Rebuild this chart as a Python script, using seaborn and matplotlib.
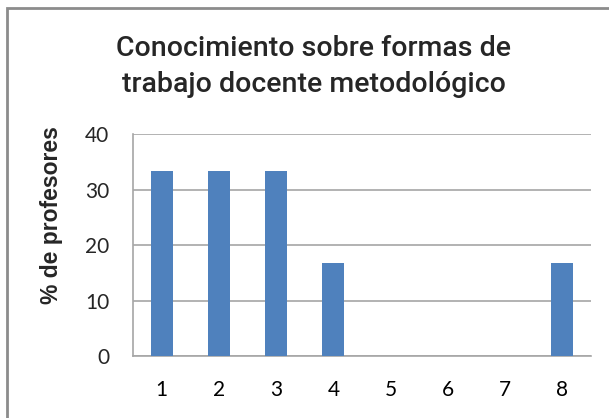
import matplotlib
matplotlib.use("Agg")
import matplotlib.pyplot as plt
import seaborn as sns
import pandas as pd
from matplotlib.patches import Rectangle

# data
categories = ["1", "2", "3", "4", "5", "6", "7", "8"]
pct_profesores = [33.3, 33.3, 33.3, 16.7, 0, 0, 0, 16.7]
y_ticks = [0, 10, 20, 30, 40]

df = pd.DataFrame({"cat": categories, "pct": pct_profesores})

sns.set_style("white")
plt.rcParams["font.family"] = ["Lato", "DejaVu Sans"]

fig = plt.figure(figsize=(6.09, 4.18), dpi=100)
ax = fig.add_axes([0.2184, 0.1483, 0.752, 0.531])

sns.barplot(data=df, x="cat", y="pct", color="#4F81BD", width=0.38,
            saturation=1, linewidth=0, ax=ax, zorder=3)

ax.set_ylim(0, 40)
ax.set_yticks(y_ticks)
ax.set_xlim(-0.5, len(categories) - 0.5)
ax.yaxis.grid(True, color="#A6A6A6", linewidth=1.2, zorder=0)
ax.xaxis.grid(False)
ax.set_axisbelow(True)

# x ticks sit between categories, labels at the centres
ax.set_xticks([i + 0.5 for i in range(-1, len(categories))], minor=True)
ax.set_xticks(range(len(categories)))
ax.set_xticklabels(categories)
ax.tick_params(axis="x", which="major", length=0, pad=17, labelsize=15, colors="#000000")
ax.tick_params(axis="x", which="minor", length=7, width=1.2, color="#A6A6A6", direction="out")
ax.tick_params(axis="y", length=7, width=1.2, color="#A6A6A6", pad=10, labelsize=15, direction="out")
ax.set_xlabel("")
ax.set_ylabel("")

for side in ["top", "right"]:
    ax.spines[side].set_visible(False)
for side in ["left", "bottom"]:
    ax.spines[side].set_color("#A6A6A6")
    ax.spines[side].set_linewidth(1.2)

fig.text(0.515, 0.841, "Conocimiento sobre formas de\ntrabajo docente metodológico",
         ha="center", va="center", fontsize=20.5, linespacing=1.42,
         family=["Roboto", "DejaVu Sans"], fontweight="medium")
fig.text(0.084, 0.486, "% de profesores", rotation=90, ha="center", va="center",
         fontsize=16.5, fontweight="bold", family=["Liberation Sans", "DejaVu Sans"])

# outer chart border (cut off at right and bottom like the reference)
fig.patches.append(Rectangle((7 / 609, -0.05), 1.2, 1.05 - 8 / 418, transform=fig.transFigure,
                             fill=False, edgecolor="#8C8C8C", linewidth=2))

fig.savefig("out.png", dpi=100)
